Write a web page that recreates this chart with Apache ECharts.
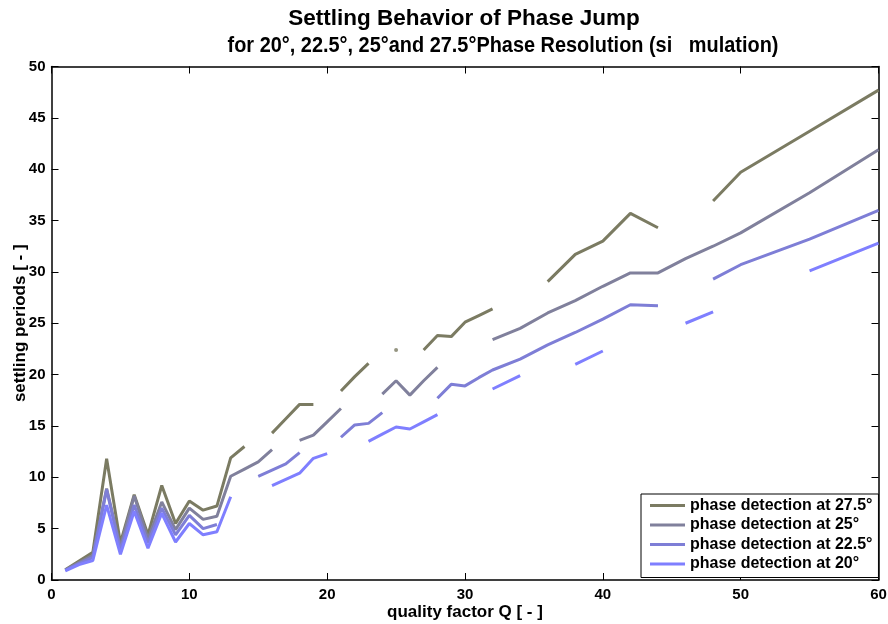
<!DOCTYPE html>
<html>
<head>
<meta charset="utf-8">
<script src="https://cdn.jsdelivr.net/npm/echarts@6/dist/echarts.min.js"></script>
<style>
html,body{margin:0;padding:0;background:#fff;}
#chart{width:888px;height:624px;}
</style>
</head>
<body>
<div id="chart"></div>
<script>
// quality factor Q values (x positions of samples)
const qValues = [1,2,3,4,5,6,7,8,9,10,11,12,13,14,15,16,17,18,19,20,21,22,23,24,25,26,27,28,29,30,31,32,34,36,38,40,42,44,46,48,50,55,60];

// settling periods per phase resolution (null = no line drawn)
const s275 = [1.0,1.85,2.7,11.8,3.6,8.3,4.4,9.2,5.5,7.7,6.8,7.2,11.9,13.0,null,14.3,15.7,17.1,17.1,null,18.4,19.8,21.1,null,22.4,null,22.4,23.8,23.7,25.1,25.75,26.4,null,29.05,31.7,33.0,35.7,34.3,null,36.9,39.7,43.7,47.7];
const s25  = [1.0,1.7,2.4,8.9,3.2,8.2,4.0,7.6,4.9,7.0,5.9,6.2,10.1,10.8,11.5,12.7,null,13.6,14.1,15.4,16.7,null,null,18.1,19.4,18.0,19.4,20.7,null,null,null,23.4,24.5,26.0,27.2,28.6,29.9,29.9,31.3,32.5,33.8,37.7,41.9];
const s225 = [0.95,1.6,2.2,8.8,2.9,7.3,3.6,7.0,4.4,6.3,5.0,5.4,null,null,10.1,10.7,11.3,12.4,null,null,13.9,15.1,15.25,16.3,null,null,null,17.7,19.05,18.9,19.7,20.45,21.5,22.9,24.1,25.4,26.8,26.7,null,29.3,30.7,33.2,36.0];
const s20  = [0.9,1.5,1.9,7.3,2.5,6.7,3.1,6.5,3.7,5.5,4.4,4.7,8.1,null,null,9.2,9.8,10.4,11.85,12.3,null,null,13.5,14.2,14.9,14.7,15.4,16.1,null,null,null,18.6,19.9,null,21.0,22.3,null,null,25.0,26.1,null,30.1,32.8];
// isolated sample of the 27.5° curve
const dot275 = [[25, 22.4]];

const seriesNames = ['phase detection at 27.5°','phase detection at 25°','phase detection at 22.5°','phase detection at 20°'];
const seriesColors = ['#7b7b62','#80809c','#7e7ed6','#7f7fff'];
const seriesValues = [s275, s25, s225, s20];

const xMin = 0, xMax = 60, xStep = 10;
const yMin = 0, yMax = 50, yStep = 5;

const titleLine1 = 'Settling Behavior of Phase Jump';
const titleLine2 = 'for 20°, 22.5°, 25°and 27.5°Phase Resolution (si   mulation)';
const xName = 'quality factor Q [ - ]';
const yName = 'settling periods [ - ]';

const chart = echarts.init(document.getElementById('chart'), null, {renderer:'canvas'});
const FONT = '"Liberation Sans", Arial, Helvetica, sans-serif';
const NARROW = '"Liberation Sans Narrow", "Arial Narrow", "Liberation Sans", sans-serif';

function axisCommon(extra){
  return Object.assign({
    type:'value',
    axisLine:{show:true, onZero:false, lineStyle:{color:'#000', width:1.5}},
    axisTick:{show:true, inside:true, length:7, lineStyle:{color:'#000', width:1}},
    splitLine:{show:false},
    axisLabel:{color:'#000', fontFamily:FONT, fontWeight:'bold', fontSize:15},
  }, extra);
}

const series = seriesValues.map((vals, i) => ({
  name: seriesNames[i],
  type: 'line',
  data: qValues.map((q, k) => [q, vals[k] === null ? '-' : vals[k]]),
  symbol: 'none',
  connectNulls: false,
  lineStyle: {color: seriesColors[i], width: 3},
  itemStyle: {color: seriesColors[i]},
  z: 2 + i,
  animation: false
}));
series.push({
  name: 'dot',
  type: 'scatter',
  data: dot275,
  symbol: 'circle',
  symbolSize: 4,
  itemStyle: {color: seriesColors[0]},
  animation: false,
  z: 2
});

chart.setOption({
  animation:false,
  backgroundColor:'#fff',
  grid:{left:51.5, right:9.5, top:66.5, bottom:44, show:false, outerBoundsMode:'none', containLabel:false},
  graphic:[
    {type:'text', x:464, y:19, style:{text:titleLine1, textAlign:'center', textVerticalAlign:'middle', font:'bold 22.5px ' + NARROW, fill:'#000'}},
    {type:'text', x:503, y:46, scaleX:0.885, style:{text:titleLine2, textAlign:'center', textVerticalAlign:'middle', font:'bold 22.5px ' + NARROW, fill:'#000'}}
  ],
  xAxis:[
    axisCommon({min:xMin, max:xMax, interval:xStep, position:'bottom',
      name:xName, nameLocation:'middle', nameGap:24, nameMoveOverlap:false,
      nameTextStyle:{color:'#000', fontFamily:FONT, fontWeight:'bold', fontSize:17},
      axisLabel:{color:'#000', fontFamily:FONT, fontWeight:'bold', fontSize:15, margin:7}}),
    axisCommon({min:xMin, max:xMax, interval:xStep, position:'top', axisLabel:{show:false}})
  ],
  yAxis:[
    axisCommon({min:yMin, max:yMax, interval:yStep, position:'left',
      name:yName, nameLocation:'middle', nameGap:23, nameMoveOverlap:false,
      nameTextStyle:{color:'#000', fontFamily:FONT, fontWeight:'bold', fontSize:17},
      axisLabel:{color:'#000', fontFamily:FONT, fontWeight:'bold', fontSize:15, margin:6}}),
    axisCommon({min:yMin, max:yMax, interval:yStep, position:'right', axisLabel:{show:false}})
  ],
  legend:{
    data: seriesNames,
    orient:'vertical',
    left:641, top:494,
    icon:'path://M0,0 L35,0 L35,3 L0,3 Z',
    itemWidth:35, itemHeight:14, itemGap:3.5,
    padding:[3.5,6,5.5,9],
    borderColor:'#000', borderWidth:1, backgroundColor:'#fff',
    textStyle:{color:'#000', fontFamily:FONT, fontWeight:'bold', fontSize:16},
    selectedMode:false
  },
  series: series
});
</script>
</body>
</html>
